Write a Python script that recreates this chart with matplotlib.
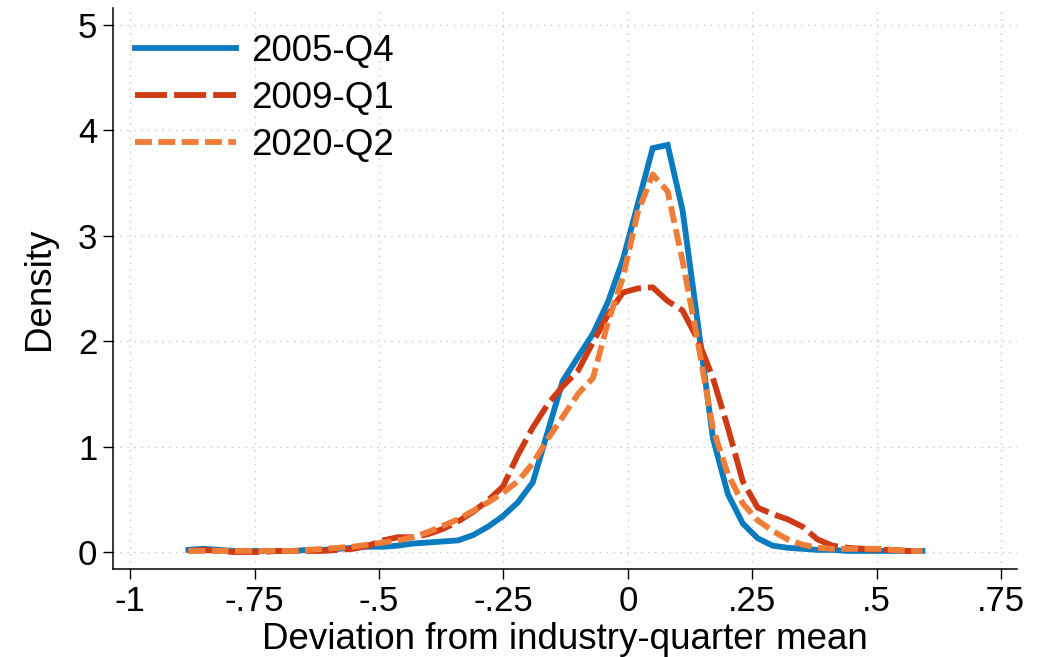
import matplotlib
matplotlib.use("Agg")
import matplotlib.pyplot as plt

plt.rcParams['font.family'] = ['Liberation Sans', 'DejaVu Sans']

# kdensity evaluation points
x_grid = [-0.883, -0.853, -0.823, -0.793, -0.763, -0.733, -0.702, -0.672, -0.642, -0.612,
          -0.582, -0.552, -0.522, -0.492, -0.462, -0.432, -0.401, -0.371, -0.341, -0.311,
          -0.281, -0.251, -0.221, -0.191, -0.161, -0.131, -0.100, -0.070, -0.040, -0.010,
          0.020, 0.050, 0.080, 0.110, 0.140, 0.171, 0.201, 0.231, 0.261, 0.291,
          0.321, 0.351, 0.381, 0.411, 0.441, 0.472, 0.502, 0.532, 0.562, 0.592]

dens_2005q4 = [0.02, 0.03, 0.02, 0.01, 0.01, 0.01, 0.01, 0.01, 0.02, 0.02,
               0.03, 0.04, 0.05, 0.05, 0.06, 0.08, 0.09, 0.10, 0.11, 0.16,
               0.24, 0.34, 0.47, 0.66, 1.14, 1.62, 1.85, 2.07, 2.37, 2.77,
               3.30, 3.83, 3.86, 3.24, 2.19, 1.08, 0.55, 0.27, 0.13, 0.06,
               0.04, 0.03, 0.02, 0.02, 0.01, 0.01, 0.01, 0.01, 0.01, 0.01]

dens_2009q1 = [0.01, 0.02, 0.01, 0.00, 0.00, 0.00, 0.01, 0.01, 0.01, 0.01,
               0.02, 0.03, 0.06, 0.11, 0.14, 0.14, 0.17, 0.22, 0.29, 0.38,
               0.49, 0.62, 0.92, 1.18, 1.40, 1.57, 1.72, 1.99, 2.25, 2.46,
               2.50, 2.51, 2.38, 2.29, 2.02, 1.65, 1.18, 0.67, 0.42, 0.36,
               0.31, 0.24, 0.12, 0.06, 0.04, 0.03, 0.02, 0.02, 0.01, 0.01]

dens_2020q2 = [0.01, 0.01, 0.01, 0.01, 0.01, 0.01, 0.01, 0.01, 0.02, 0.03,
               0.04, 0.05, 0.07, 0.09, 0.11, 0.14, 0.19, 0.25, 0.31, 0.39,
               0.47, 0.56, 0.67, 0.84, 1.07, 1.28, 1.50, 1.65, 2.18, 2.60,
               3.22, 3.58, 3.42, 2.76, 2.01, 1.17, 0.74, 0.46, 0.30, 0.20,
               0.12, 0.07, 0.04, 0.03, 0.03, 0.03, 0.03, 0.02, 0.01, 0.01]

x_ticks = [-1, -0.75, -0.5, -0.25, 0, 0.25, 0.5, 0.75]
x_tick_labels = ['-1', '-.75', '-.5', '-.25', '0', '.25', '.5', '.75']
y_ticks = [0, 1, 2, 3, 4, 5]

c_blue = '#0A7BBF'
c_red = '#CD3A14'
c_orange = '#EF7D38'
lw = 4.2

fig = plt.figure(figsize=(10.48, 6.57), dpi=100)
ax = fig.add_axes([0.1078, 0.134, 0.8626, 0.854])

ax.plot(x_grid, dens_2005q4, color=c_blue, lw=lw, label='2005-Q4',
        solid_joinstyle='miter')
ax.plot(x_grid, dens_2009q1, color=c_red, lw=lw, dashes=(5.5, 1.2),
        label='2009-Q1')
ax.plot(x_grid, dens_2020q2, color=c_orange, lw=lw, dashes=(2.9, 1.1),
        label='2020-Q2')

ax.set_xlim(-1.0346, 0.782)
ax.set_ylim(-0.161, 5.16)
ax.set_xticks(x_ticks)
ax.set_xticklabels(x_tick_labels)
ax.set_yticks(y_ticks)

ax.grid(True, color='#c8c8c8', linestyle=(0, (1, 4)), linewidth=1.0)
ax.set_axisbelow(True)
for s in ['top', 'right']:
    ax.spines[s].set_visible(False)
for s in ['left', 'bottom']:
    ax.spines[s].set_linewidth(1.1)

ax.tick_params(axis='both', direction='out', length=7.2, width=1.0,
               labelsize=25, pad=4)

ax.set_xlabel('Deviation from industry-quarter mean', fontsize=26.5, labelpad=3)
ax.set_ylabel('Density', fontsize=26.5, labelpad=15)

ax.legend(loc='upper left', bbox_to_anchor=(-0.0044, 1.0), frameon=False,
          fontsize=26.5, handlelength=2.75, handletextpad=0.4,
          labelspacing=0.33, borderaxespad=0.3)

fig.savefig('out.png', dpi=100)
